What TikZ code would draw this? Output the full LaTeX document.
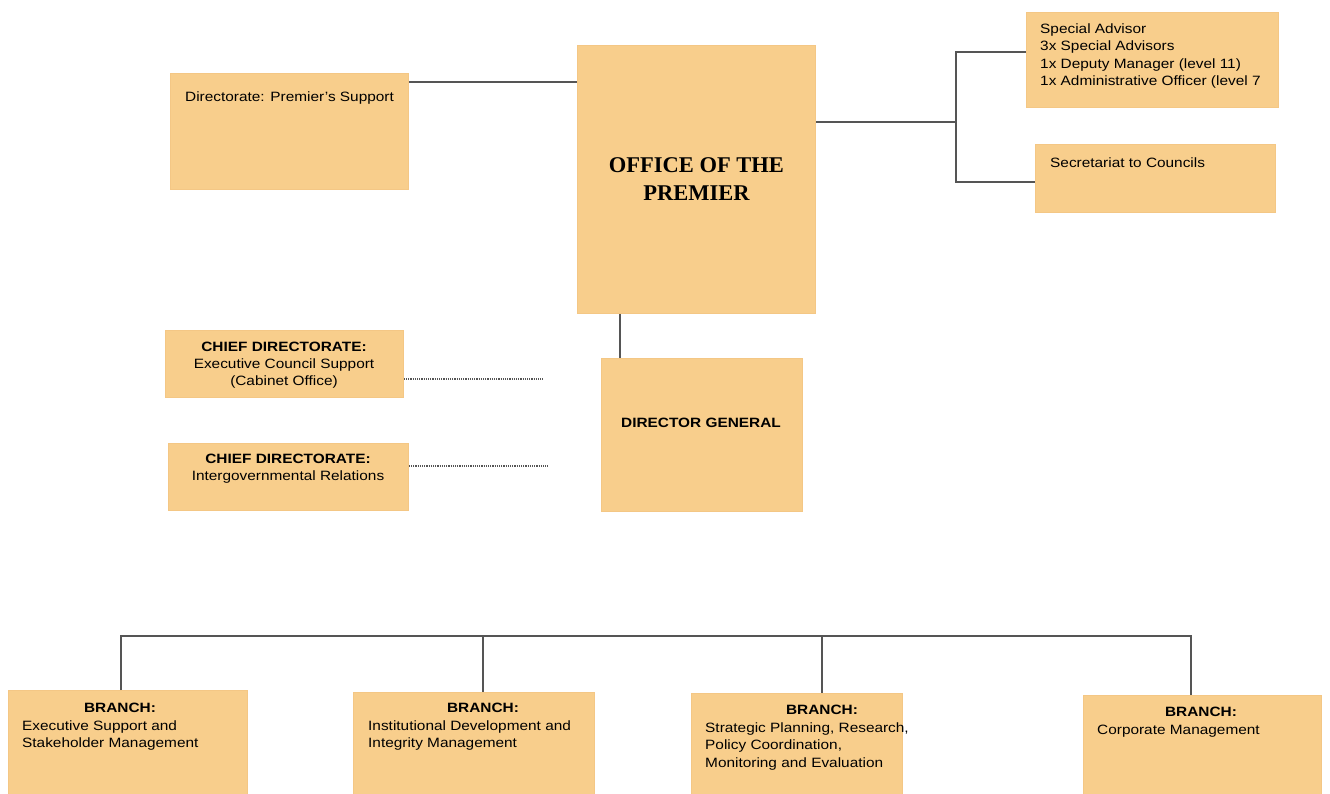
\documentclass[tikz,border=0pt]{standalone}
\usepackage{fontspec}
\usepackage{tikz}
\usepackage{xcolor}
\setmainfont[FakeStretch=1.14]{Liberation Sans}
\newfontfamily\titlefont{Liberation Serif}
\usetikzlibrary{positioning,calc}

\definecolor{boxfill}{HTML}{F8CE8C}
\definecolor{boxedge}{HTML}{F4C785}
\definecolor{linkgray}{HTML}{555555}

\tikzset{
  unitbox/.style={fill=boxfill, draw=boxedge, line width=0.8pt, inner sep=0pt, anchor=north west},
  lbl/.style={inner sep=0pt, font=\fontsize{13.5}{17.4}\selectfont, align=left, anchor=north west},
  link/.style={draw=linkgray, line width=1.2pt},
  dotlink/.style={draw=linkgray, line width=1.2pt, densely dotted}
}

\begin{document}
\begin{tikzpicture}[x=1pt,y=-1pt]
\useasboundingbox (0,0) rectangle (1330,794);

% top row
\node[unitbox, minimum width=238, minimum height=116] (psup) at (170,73) {};
\node[lbl] (psuptxt) at (185,92) {Directorate: Premier's Support};

\node[unitbox, minimum width=238, minimum height=268, align=center,
      font=\titlefont\bfseries\fontsize{22.5}{28}\selectfont] (office) at (577,45) {OFFICE OF THE\\PREMIER};

\node[unitbox, minimum width=252, minimum height=95] (spec) at (1026,12) {};
\node[lbl] (spectxt) at (1040,23.5) {Special Advisor\\3x Special Advisors\\1x Deputy Manager (level 11)\\1x Administrative Officer (level 7};

\node[unitbox, minimum width=240, minimum height=68] (sec) at (1035,144) {};
\node[lbl] (sectxt) at (1050,157.5) {Secretariat to Councils};

% chief directorates and DG
\node[unitbox, minimum width=238, minimum height=67] (cd1) at (165,330) {};
\node[lbl, align=center, anchor=north] (cd1txt) at (284,341.5) {\textbf{CHIEF DIRECTORATE:}\\Executive Council Support\\(Cabinet Office)};

\node[unitbox, minimum width=240, minimum height=67] (cd2) at (168,443) {};
\node[lbl, align=center, anchor=north] (cd2txt) at (288,453.5) {\textbf{CHIEF DIRECTORATE:}\\Intergovernmental Relations};

\node[unitbox, minimum width=201, minimum height=153] (dg) at (601,358) {};
\node[lbl, anchor=center] (dgtxt) at (701,423) {\textbf{DIRECTOR GENERAL}};

% branches
\node[unitbox, minimum width=239, minimum height=110] (b1) at (8,690) {};
\node[lbl, anchor=north] (b1head) at (120,702.5) {\textbf{BRANCH:}};
\node[lbl] (b1txt) at (22,720.5) {Executive Support and\\Stakeholder Management};

\node[unitbox, minimum width=241, minimum height=110] (b2) at (353,692) {};
\node[lbl, anchor=north] (b2head) at (483,702.5) {\textbf{BRANCH:}};
\node[lbl] (b2txt) at (368,720.5) {Institutional Development and\\Integrity Management};

\node[unitbox, minimum width=211, minimum height=110] (b3) at (691,693) {};
\node[lbl, anchor=north] (b3head) at (822,704.5) {\textbf{BRANCH:}};
\node[lbl] (b3txt) at (705,722.5) {Strategic Planning, Research,\\Policy Coordination,\\Monitoring and Evaluation};

\node[unitbox, minimum width=238, minimum height=110] (b4) at (1083,695) {};
\node[lbl, anchor=north] (b4head) at (1201,706.5) {\textbf{BRANCH:}};
\node[lbl] (b4txt) at (1097,724.5) {Corporate Management};

% connectors
\coordinate (psupc) at ($(psup.north east)+(0,9)$);
\draw[link] (psupc) -- (psupc -| office.west);

\coordinate (offr) at ($(office.north east)+(0,77)$);
\coordinate (fork) at (956,122);
\coordinate (specc) at ($(spec.north west)+(0,40)$);
\coordinate (secc) at ($(sec.north west)+(0,38)$);
\draw[link] (offr) -- (fork);
\draw[link] (specc) -- (specc -| fork) -- (secc -| fork) -- (secc);

\coordinate (dgc) at ($(dg.north west)+(19,0)$);
\draw[link] (dgc |- office.south) -- (dgc);

\coordinate (cd1end) at (543,379);
\coordinate (cd2end) at (548,466);
\draw[dotlink] (cd1end -| cd1.east) -- (cd1end);
\draw[dotlink] (cd2end -| cd2.east) -- (cd2end);

\coordinate (bus) at (0,636);
\coordinate (b1top) at ($(b1.north west)+(113,0)$);
\coordinate (b2top) at ($(b2.north west)+(130,0)$);
\coordinate (b3top) at ($(b3.north west)+(131,0)$);
\coordinate (b4top) at ($(b4.north west)+(108,0)$);
\draw[link] (b1top) -- (b1top |- bus) -- (b4top |- bus) -- (b4top);
\draw[link] (b2top |- bus) -- (b2top);
\draw[link] (b3top |- bus) -- (b3top);

\end{tikzpicture}
\end{document}
